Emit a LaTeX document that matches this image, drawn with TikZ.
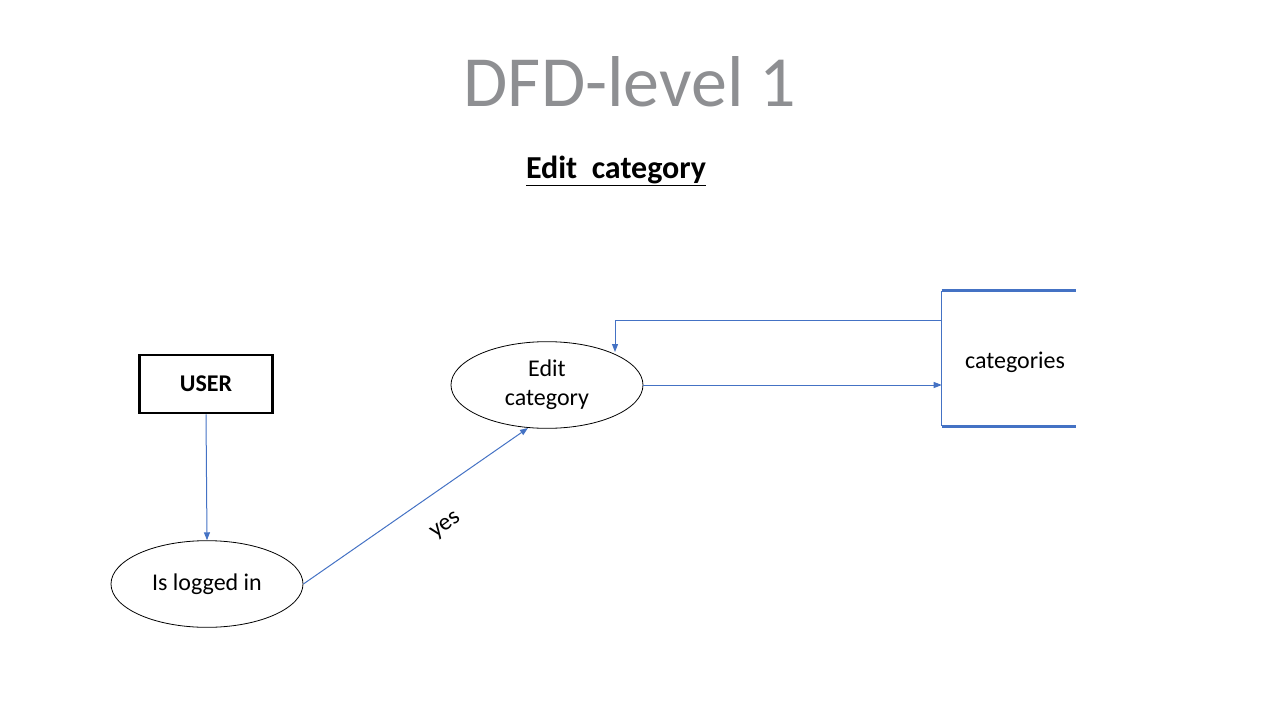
\documentclass[tikz,border=0pt]{standalone}
\usepackage{fontspec}
\setmainfont{Carlito}
\usetikzlibrary{arrows.meta,shapes.geometric}
\definecolor{flowblue}{HTML}{4472C4}
\definecolor{titlegray}{HTML}{8E8F92}
\tikzset{
  flow/.style={draw=flowblue, line width=0.75pt, -{Triangle[length=6pt,width=4.5pt]}},
  proc/.style={ellipse, draw=black, line width=0.6pt, minimum width=144pt, minimum height=65pt, inner sep=0pt, align=center, font=\fontsize{18}{22}\selectfont},
  ent/.style={draw=black, line width=2pt, minimum width=100pt, minimum height=43.5pt, inner sep=0pt, font=\fontsize{18}{22}\selectfont\bfseries},
  storeline/.style={draw=flowblue, line width=2.2pt},
  lbl/.style={font=\fontsize{18}{22}\selectfont}
}
\begin{document}
\begin{tikzpicture}[x=0.75pt,y=-0.75pt]
\useasboundingbox (0,0) rectangle (1280,720);
\node[text=titlegray, font=\fontsize{54}{60}\selectfont] (title) at (630,82) {DFD-level 1};
\node[font=\fontsize{24}{28}\selectfont\bfseries] (sub) at (616,171) {\underline{Edit\ \ category}};
\node[ent] (user) at (206,384) {\raisebox{-1.5pt}{USER}};
\node[proc] (login) at (207,584) {\raisebox{-1.5pt}{Is logged in}};
\node[proc] (edit) at (547,385) {\raisebox{-1.5pt}{Edit}\\\raisebox{-1.5pt}{category}};
\node[minimum width=100.5pt, minimum height=101pt, inner sep=0pt] (store) at (1009,358.5) {};
\node[lbl] (cattext) at (1015,362.5) {categories};
\draw[draw=flowblue, line width=0.75pt] (store.north west) -- (store.south west);
\draw[storeline] (store.north west) -- (store.north east);
\draw[storeline] (store.south west) -- (store.south east);
\draw[flow] (user.south) -- (login.north);
\draw[flow] (login.east) -- (528,428) coordinate (editin);
\node[lbl, rotate=36] (yes) at (446,526) {yes};
\draw[flow] (edit.east) -- (edit.east -| store.west);
\coordinate (back) at (942,320);
\draw[flow] (back) -- (615,320) -- (615,352);
\end{tikzpicture}
\end{document}
